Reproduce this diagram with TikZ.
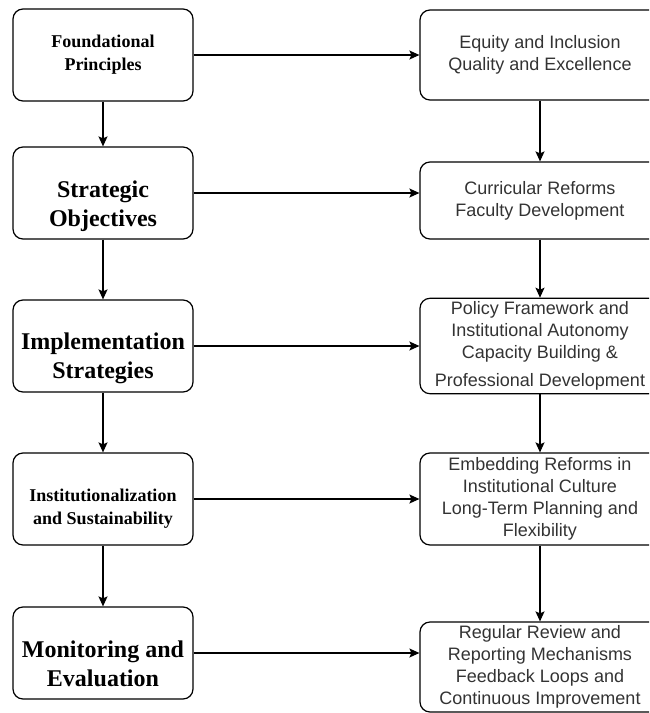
\documentclass[tikz,border=0pt]{standalone}
\usepackage{fontspec}
\setmainfont{Liberation Serif}
\newfontfamily\arialfont{Liberation Sans}
\usetikzlibrary{arrows.meta}
\tikzset{
  leftbox/.style={draw,very thick,rounded corners=10pt,minimum width=180pt,minimum height=92pt},
  rightbox/.style={draw,very thick,rounded corners=10pt,minimum width=240pt,minimum height=92pt},
  smalltext/.style={align=center,font=\bfseries\fontsize{18}{23}\selectfont},
  bigtext/.style={align=center,font=\bfseries\fontsize{24}{29}\selectfont},
  righttext/.style={align=center,font=\arialfont\fontsize{18}{22}\selectfont,text=black!80},
  flow/.style={-{Stealth[length=10pt,width=9pt,inset=2pt]},very thick}
}
\begin{document}
\begin{tikzpicture}[x=1pt,y=-1pt]
\path[use as bounding box,clip] (0,0) rectangle (649,713);
% 左の列
\node[leftbox,smalltext] (found) at (103,55) {Foundational\\Principles};
\node[leftbox,label={[bigtext,yshift=-13pt]center:{Strategic\\Objectives}}] (strat) at (103,193) {};
\node[leftbox,label={[bigtext,yshift=-12pt]center:{Implementation\\Strategies}}] (impl) at (103,346) {};
\node[leftbox,label={[smalltext,yshift=-10pt]center:{Institutionalization\\and Sustainability}}] (inst) at (103,499) {};
\node[leftbox,label={[bigtext,yshift=-11pt]center:{Monitoring and\\Evaluation}}] (moni) at (103,653) {};
% 右の列
\node[rightbox,righttext,minimum height=90pt] (equity) at (540,55) {Equity and Inclusion\\Quality and Excellence};
\node[rightbox,righttext,minimum height=77pt] (curric) at (540,200.5) {Curricular Reforms\\Faculty Development};
\node[rightbox,righttext] (policy) at (540,346) {Policy Framework and\\Institutional Autonomy\\Capacity Building \&\\[6pt]Professional Development};
\node[rightbox,righttext] (embed) at (540,499) {Embedding Reforms in\\Institutional Culture\\Long-Term Planning and\\Flexibility};
\node[rightbox,righttext,minimum height=90pt] (review) at (540,667) {Regular Review and\\Reporting Mechanisms\\Feedback Loops and\\Continuous Improvement};
% 縦の矢印
\draw[flow] (found) -- (strat);
\draw[flow] (strat) -- (impl);
\draw[flow] (impl) -- (inst);
\draw[flow] (inst) -- (moni);
\draw[flow] (equity) -- (curric);
\draw[flow] (curric) -- (policy);
\draw[flow] (policy) -- (embed);
\draw[flow] (embed) -- (review);
% 横の矢印
\draw[flow] (found.east) -- (found.east -| equity.west);
\draw[flow] (strat.east) -- (strat.east -| curric.west);
\draw[flow] (impl.east) -- (impl.east -| policy.west);
\draw[flow] (inst.east) -- (inst.east -| embed.west);
\draw[flow] (moni.east) -- (moni.east -| review.west);
\end{tikzpicture}
\end{document}
